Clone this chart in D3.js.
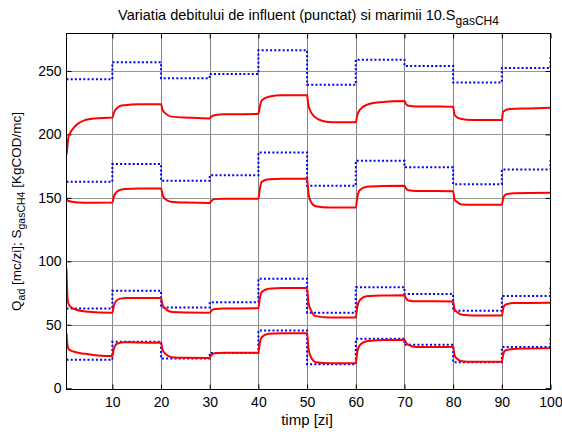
<!DOCTYPE html>
<html><head><meta charset="utf-8">
<script src="https://cdn.jsdelivr.net/npm/d3@7"></script>
<style>body{margin:0;background:#fff} svg{display:block} text{font-family:"Liberation Sans",Arial,sans-serif;fill:#000}</style>
</head><body><svg id="c" width="562" height="432"></svg>
<script>
// ---- data ----
const xTicks = [10,20,30,40,50,60,70,80,90,100];
const yTicks = [0,50,100,150,200,250];
const stepTimes = [0.58,10,20,30,40,50,60,70,80,90,100];
// influent flow (dotted, step) for the four cases
const blue1 = [243.4,256.8,244.2,247.6,266.3,239.2,258.9,253.9,240.8,252.4,261];
const blue2 = [162.6,176.6,163.4,167.8,185.8,159.5,179.2,174.2,160.8,172.4,181];
const blue3 = [62.9,76.8,63.7,67.8,86.3,59.5,79.5,74.2,61.1,72.6,80.3];
const blue4 = [22.4,36.6,23.4,27.8,45.5,18.9,38.9,34.2,20.5,32.4,41];
// 10.S_gasCH4 responses (solid) as [time, value]
const red1 = [[0.58,183.7],[0.75,190],[0.93,196.8],[1.3,201],[1.96,204.7],[3,208.7],[4.4,211.3],[6.4,212.6],[10,213.3],
  [10.3,217],[10.9,220.5],[11.6,222.4],[12.6,223],[15.4,223.7],[20,223.8],
  [20.3,219.5],[20.9,216.6],[22.2,214],[25.7,213.2],[30,212.6],
  [30.3,214],[31.2,215.3],[33,215.9],[40,216],
  [40.3,222],[40.7,226.8],[42.1,229.7],[44.9,230.8],[50,230.8],
  [50.2,225],[50.5,220],[51.5,214],[53.2,210.5],[55.3,209.5],[60,209.5],
  [60.3,215],[60.8,219.2],[62.2,223.2],[65,225.3],[70,226.3],
  [70.3,224],[70.8,222.6],[72.5,222],[80,221.8],
  [80.3,215.3],[81.3,212.6],[84,211.3],[90,211.3],
  [90.25,217.9],[91.6,220],[95.7,220.5],[100,221]];
const red2 = [[0.58,148.9],[1,147.5],[2,146.8],[4,146.2],[10,146.3],
  [10.3,151],[10.9,154.7],[11.6,156.2],[12.6,156.9],[15.4,157.4],[20,157.4],
  [20.3,152.5],[20.9,149],[22,147],[25,146.3],[30,146],
  [30.3,147.5],[31,149],[33,149.3],[40,149.3],
  [40.3,157],[40.7,162.6],[42.1,164.7],[45,165],[50,165],
  [50.3,153],[50.8,146.8],[51.8,143.4],[54.5,142.4],[60,142.4],
  [60.3,150],[60.8,156],[62.2,158.7],[65.5,159.3],[70,159.5],
  [70.3,157.5],[70.8,156],[72.5,155.4],[80,155.3],
  [80.3,148.5],[80.8,146.8],[81.8,144.7],[84,144.5],[90,144.5],
  [90.3,150],[90.8,152.6],[92.5,153.7],[100,154]];
const red3 = [[0.58,94.2],[0.68,80],[0.8,70],[1.1,65.5],[2,62.6],[4.4,60.5],[10,59.5],
  [10.3,65],[10.9,69.2],[11.6,70.6],[13,71],[20,71],
  [20.3,66],[20.9,62.6],[22.2,60],[25,59.6],[30,59.5],
  [30.3,61],[31,62.4],[33,62.8],[40,63],
  [40.3,71],[40.7,75.8],[42.1,78.4],[45,78.9],[50,78.9],
  [50.3,67],[50.8,61.3],[51.8,56.8],[54.5,55.8],[60,55.8],
  [60.3,64],[60.8,69.2],[62.2,72.4],[65.5,73.1],[70,73.2],
  [70.3,71],[70.8,69.2],[72.5,68.5],[80,68.4],
  [80.3,62],[80.8,60],[81.8,57.9],[84,57.4],[90,57.4],
  [90.3,63],[90.7,65.8],[92.4,67.1],[100,67.4]];
const red4 = [[0.58,43.3],[0.68,37.5],[0.8,33.5],[1.1,30.5],[2,28.9],[4.4,27.1],[7,25.8],[10,25.3],
  [10.3,31],[10.9,35],[12.3,36.3],[15,36],[20,35.8],
  [20.3,30.5],[20.9,27.1],[22.2,24.5],[25,24],[30,23.9],
  [30.3,26],[31,27.6],[33,27.9],[40,27.9],
  [40.3,36],[40.7,40.3],[42.1,42.9],[45,43.4],[50,43.4],
  [50.3,31],[50.8,24.5],[51.8,20.5],[54.5,19.7],[60,19.7],
  [60.3,28],[60.8,33.7],[62.2,37.1],[65.5,38],[70,38.2],
  [70.3,36],[70.8,34.2],[72.5,32.5],[80,32.4],
  [80.3,26],[80.8,23.2],[81.8,21.3],[84,20.8],[90,20.8],
  [90.3,27],[90.7,29.7],[92.4,31],[100,31.6]];

// ---- layout ----
const L = 66.5, R = 550.5, T = 33.5, B = 389.5;
const svg = d3.select("#c");
const x = d3.scaleLinear().domain([0.58,100]).range([L,R]);
const y = d3.scaleLinear().domain([-1,279.5]).range([B,T]);

svg.append("defs").append("clipPath").attr("id","clip")
  .append("rect").attr("x",L).attr("y",T).attr("width",R-L).attr("height",B-T);

// grid
const g = svg.append("g");
g.selectAll(".vg").data(xTicks.filter(d=>d<100)).enter().append("line")
  .attr("x1",d=>Math.round(x(d))+0.5).attr("x2",d=>Math.round(x(d))+0.5).attr("y1",T).attr("y2",B)
  .attr("stroke","#666").attr("stroke-width",0.8);
g.selectAll(".hg").data(yTicks.filter(d=>d>0)).enter().append("line")
  .attr("y1",d=>Math.round(y(d))+0.5).attr("y2",d=>Math.round(y(d))+0.5).attr("x1",L).attr("x2",R)
  .attr("stroke","#999").attr("stroke-width",1);

// axes with inward ticks
const tl = 5;
svg.append("g").attr("transform",`translate(0,${B})`)
  .call(d3.axisBottom(x).tickValues(xTicks).tickSize(-tl).tickPadding(8).tickFormat(d3.format("d")))
  .call(a=>{a.select(".domain").remove(); a.selectAll("text").attr("font-size",14);});
svg.append("g").attr("transform",`translate(0,${T})`)
  .call(d3.axisTop(x).tickValues(xTicks).tickSize(-tl).tickFormat(""))
  .call(a=>a.select(".domain").remove());
svg.append("g").attr("transform",`translate(${L},0)`)
  .call(d3.axisLeft(y).tickValues(yTicks).tickSize(-tl).tickPadding(5).tickFormat(d3.format("d")))
  .call(a=>{a.select(".domain").remove(); a.selectAll("text").attr("font-size",14);});
svg.append("g").attr("transform",`translate(${R},0)`)
  .call(d3.axisRight(y).tickValues(yTicks).tickSize(-tl).tickFormat(""))
  .call(a=>a.select(".domain").remove());
svg.selectAll(".tick line").attr("stroke","#000");
svg.selectAll(".tick text").attr("font-family","Liberation Sans, Arial, sans-serif").attr("fill","#000");

// series
const plot = svg.append("g").attr("clip-path","url(#clip)");
const stepLine = d3.line().x(d=>x(d[0])).y(d=>y(d[1])).curve(d3.curveStepAfter);
const smooth = d3.line().x(d=>x(d[0])).y(d=>y(d[1])).curve(d3.curveMonotoneX);
[blue1,blue2,blue3,blue4].forEach(b=>{
  plot.append("path").datum(stepTimes.map((t,i)=>[t,b[i]])).attr("d",stepLine)
    .attr("fill","none").attr("stroke","#0000ff").attr("stroke-width",2).attr("stroke-dasharray","2,2.2");
});
[red1,red2,red3,red4].forEach(r=>{
  plot.append("path").datum(r).attr("d",smooth)
    .attr("fill","none").attr("stroke","#ff0000").attr("stroke-width",2).attr("stroke-linejoin","round");
});

// box
svg.append("rect").attr("x",L).attr("y",T).attr("width",R-L).attr("height",B-T)
  .attr("fill","none").attr("stroke","#000").attr("stroke-width",1);

// title
const tt = svg.append("text").attr("x",(L+R)/2).attr("y",20).attr("text-anchor","middle").attr("font-size",14.5);
tt.append("tspan").text("Variatia debitului de influent (punctat) si marimii 10.S");
tt.append("tspan").attr("dy",5).attr("font-size",12).text("gasCH4");

// x label
svg.append("text").attr("x",307).attr("y",425).attr("text-anchor","middle").attr("font-size",15).text("timp [zi]");

// y label
const yl = svg.append("text").attr("transform",`translate(21,${(T+B)/2}) rotate(-90)`)
  .attr("text-anchor","middle").attr("font-size",13.5);
yl.append("tspan").text("Q");
yl.append("tspan").attr("dy",4).attr("font-size",10.5).text("ad");
yl.append("tspan").attr("dy",-4).text(" [mc/zi]; S");
yl.append("tspan").attr("dy",4).attr("font-size",10.5).text("gasCH4");
yl.append("tspan").attr("dy",-4).text(" [KgCOD/mc]");
</script></body></html>
